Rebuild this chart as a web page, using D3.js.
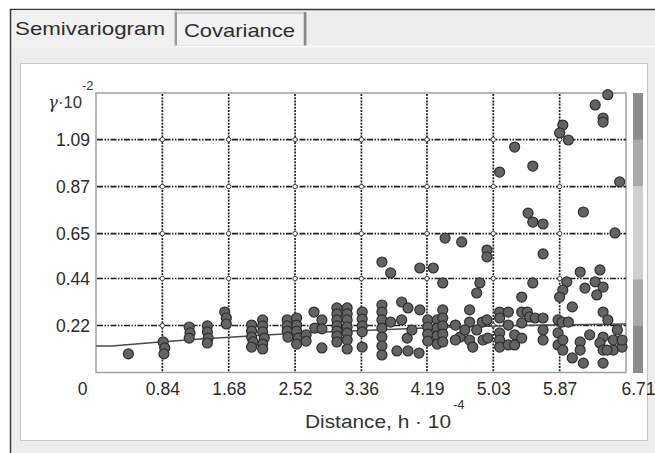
<!DOCTYPE html>
<html>
<head>
<meta charset="utf-8">
<script src="https://cdn.jsdelivr.net/npm/d3@7"></script>
<style>
  html, body { margin: 0; padding: 0; background: #fff; }
  svg { display: block; }
  text { font-family: "Liberation Sans", Arial, sans-serif; }
</style>
</head>
<body>
<script>
// Semivariogram panel

// empirical semivariogram points (distance h*10^-4, gamma*10^-2)
const lagX = [
  0.41, 0.85, 0.87, 0.86, 1.18, 1.19, 1.18, 1.41, 1.41, 1.42, 1.41, 1.63, 1.65, 1.65,
  1.97, 1.97, 1.97, 1.99, 1.97, 2.11, 2.11, 2.11, 2.13, 2.11, 2.11,
  2.42, 2.42, 2.42, 2.43, 2.54, 2.54, 2.54, 2.56, 2.54, 2.66, 2.66, 2.76, 2.77,
  2.86, 2.86, 2.86, 3.05, 3.05, 3.05, 3.05, 3.05, 3.05, 3.05,
  3.18, 3.18, 3.18, 3.18, 3.18, 3.18, 3.18, 3.37, 3.37, 3.37, 3.37, 3.37,
  3.62, 3.73, 3.62, 3.62, 3.62, 3.62, 3.62, 3.62, 3.62, 3.73,
  3.87, 3.95, 3.87, 3.94, 3.81, 3.95, 4.10, 4.10, 4.27, 4.09,
  4.20, 4.20, 4.20, 4.20, 4.32, 4.32, 4.32, 4.32,
  4.42, 4.63, 4.95, 4.95, 5.66, 4.39, 4.86, 4.82, 5.53, 5.39,
  5.96, 5.91, 5.87, 6.13, 6.19, 6.32, 6.38, 6.42, 6.34, 6.03, 6.42, 6.48,
  4.39, 4.39, 4.39, 4.39, 4.39, 4.73, 4.73, 4.61, 4.73, 4.77,
  4.89, 4.95, 4.82, 4.90, 4.96, 5.11, 5.11, 5.11, 5.11, 5.11,
  5.22, 5.22, 5.22, 5.30, 5.30, 5.39, 5.46, 5.49, 5.56, 5.39, 5.39,
  5.66, 5.66, 5.66, 5.85, 5.90, 5.98, 5.85, 5.85, 5.91, 5.91,
  6.03, 6.17, 6.13, 6.13, 6.42, 6.38, 6.42, 6.42, 6.55, 6.55, 6.66, 6.66, 6.47,
  6.48, 6.32, 6.42, 6.42, 5.91, 5.87, 5.98, 5.30, 5.53, 5.11, 6.63,
  5.47, 5.53, 5.66, 6.17, 6.57,
  4.55, 4.55, 4.67, 4.00, 6.25, 6.60
];
const gamma = [
  0.087, 0.143, 0.115, 0.087, 0.213, 0.185, 0.161, 0.218, 0.190, 0.161, 0.138, 0.283, 0.255, 0.227,
  0.222, 0.194, 0.166, 0.143, 0.119, 0.246, 0.218, 0.190, 0.161, 0.133, 0.110,
  0.246, 0.218, 0.194, 0.166, 0.255, 0.222, 0.194, 0.161, 0.133, 0.176, 0.147, 0.283, 0.208,
  0.246, 0.204, 0.115, 0.302, 0.274, 0.246, 0.218, 0.194, 0.171, 0.143,
  0.302, 0.274, 0.246, 0.213, 0.185, 0.152, 0.110, 0.283, 0.250, 0.218, 0.190, 0.119,
  0.517, 0.466, 0.316, 0.283, 0.246, 0.208, 0.166, 0.124, 0.082, 0.236,
  0.330, 0.302, 0.246, 0.161, 0.101, 0.101, 0.293, 0.489, 0.489, 0.091,
  0.246, 0.213, 0.180, 0.147, 0.246, 0.208, 0.171, 0.133,
  0.629, 0.611, 0.573, 0.541, 0.555, 0.419, 0.419, 0.372, 0.419, 0.353,
  0.424, 0.386, 0.353, 0.470, 0.395, 0.424, 0.480, 0.400, 0.363, 0.307, 0.283, 0.246,
  0.293, 0.255, 0.218, 0.180, 0.143, 0.293, 0.236, 0.166, 0.152, 0.119,
  0.236, 0.246, 0.199, 0.152, 0.161, 0.283, 0.255, 0.185, 0.152, 0.119,
  0.283, 0.222, 0.129, 0.176, 0.129, 0.283, 0.283, 0.260, 0.255, 0.232, 0.161,
  0.255, 0.199, 0.152, 0.246, 0.236, 0.236, 0.185, 0.129, 0.152, 0.105,
  0.068, 0.044, 0.143, 0.105, 0.166, 0.138, 0.105, 0.044, 0.152, 0.105, 0.119, 0.152, 0.105,
  1.300, 1.252, 1.191, 1.172, 1.158, 1.121, 1.088, 1.055, 0.966, 0.938, 0.892,
  0.746, 0.704, 0.695, 0.751, 0.653,
  0.222, 0.152, 0.199, 0.199, 0.176, 0.199
];

// fitted model curve
const modelX = [0, 0.20, 0.81, 1.32, 1.95, 2.58, 3.22, 3.85, 4.48, 5.11, 5.75, 6.71];
const modelY = [0.124, 0.124, 0.143, 0.157, 0.171, 0.185, 0.194, 0.204, 0.213, 0.218, 0.222, 0.227];

const xTickLabels = ["0", "0.84", "1.68", "2.52", "3.36", "4.19", "5.03", "5.87", "6.71"];
const yTickLabels = ["0.22", "0.44", "0.65", "0.87", "1.09"];

// shading of the side bar, top to bottom
const barColors = ["#8c8c8c", "#a9a9a9", "#cfcfcf", "#cfcfcf", "#a9a9a9", "#8c8c8c"];

const W = 655, H = 453;
const svg = d3.select("body").append("svg")
  .attr("width", W)
  .attr("height", H);

// window chrome
svg.append("rect").attr("width", W).attr("height", H).attr("fill", "#fff");
svg.append("rect").attr("x", 10).attr("y", 9).attr("width", W - 10).attr("height", H - 9)
  .attr("fill", "#ededed");
svg.append("path").attr("d", `M10.5,${H} V9.5 H${W}`)
  .attr("fill", "none").attr("stroke", "#3a3a3a").attr("stroke-width", 1.5);

// tabs
svg.append("rect").attr("x", 175).attr("y", 13).attr("width", 131).attr("height", 33)
  .attr("fill", "#f2f2f2").attr("stroke", "#b8b8b8");
svg.append("line").attr("x1", 305).attr("x2", 305).attr("y1", 12).attr("y2", 46)
  .attr("stroke", "#888").attr("stroke-width", 2.5);
svg.append("line").attr("x1", 176).attr("x2", 176).attr("y1", 12).attr("y2", 46)
  .attr("stroke", "#999").attr("stroke-width", 2);
svg.append("line").attr("x1", 175).attr("x2", W).attr("y1", 46.5).attr("y2", 46.5)
  .attr("stroke", "#fafafa").attr("stroke-width", 2);
svg.append("rect").attr("x", 12).attr("y", 10).attr("width", 162).attr("height", 38)
  .attr("fill", "#f0f0f0");
svg.append("text").attr("x", 15).attr("y", 35).attr("font-size", 19).attr("fill", "#2e2e2e")
  .attr("font-family", "'DejaVu Sans', sans-serif")
  .attr("textLength", 150).attr("lengthAdjust", "spacingAndGlyphs")
  .text("Semivariogram");
svg.append("text").attr("x", 184).attr("y", 37).attr("font-size", 19).attr("fill", "#2e2e2e")
  .attr("font-family", "'DejaVu Sans', sans-serif")
  .attr("textLength", 111).attr("lengthAdjust", "spacingAndGlyphs")
  .text("Covariance");

// chart box
svg.append("rect").attr("x", 20.5).attr("y", 63.5).attr("width", 627).attr("height", 377)
  .attr("fill", "#fff").attr("stroke", "#c4c4c4");

const plot = { left: 96, right: 626, top: 93, bottom: 372.5 };

const x = d3.scaleLinear().domain([0, 6.71]).range([plot.left, plot.right]);
const y = d3.scaleLinear().domain([0, 1.308]).range([plot.bottom, plot.top]);

const xTicks = xTickLabels.map(Number);
const yTicks = yTickLabels.map(Number);

// side bar
const barScale = d3.scaleBand().domain(d3.range(barColors.length)).range([plot.top, plot.bottom]);
svg.append("g").selectAll("rect")
  .data(barColors)
  .join("rect")
    .attr("x", 633)
    .attr("y", (d, i) => barScale(i))
    .attr("width", 10)
    .attr("height", barScale.bandwidth() + 0.5)
    .attr("fill", d => d);

// plot frame
svg.append("rect")
  .attr("x", plot.left).attr("y", plot.top)
  .attr("width", plot.right - plot.left).attr("height", plot.bottom - plot.top)
  .attr("fill", "#fff").attr("stroke", "#a0a0a0").attr("stroke-width", 1.5);

// grid
const grid = svg.append("g");
grid.selectAll("line.v")
  .data(xTicks.slice(1, -1))
  .join("line")
    .attr("class", "v")
    .attr("x1", d => x(d)).attr("x2", d => x(d))
    .attr("y1", plot.top + 1).attr("y2", plot.bottom)
    .attr("stroke", "#1e1e1e").attr("stroke-width", 1.7)
    .attr("stroke-dasharray", "2,1.2");
grid.selectAll("line.h")
  .data(yTicks)
  .join("line")
    .attr("class", "h")
    .attr("x1", plot.left + 1).attr("x2", plot.right)
    .attr("y1", d => y(d)).attr("y2", d => y(d))
    .attr("stroke", "#1e1e1e").attr("stroke-width", 1.7)
    .attr("stroke-dasharray", "6,1.5,1.5,1.5,1.5,1.5");
const crossings = d3.cross(xTicks.slice(1, -1), yTicks);
grid.selectAll("circle")
  .data(crossings)
  .join("circle")
    .attr("cx", d => x(d[0])).attr("cy", d => y(d[1]))
    .attr("r", 2.2)
    .attr("fill", "#fff").attr("stroke", "#444").attr("stroke-width", 1);

// axes labels
const xAxis = svg.append("g")
  .attr("transform", `translate(0,${plot.bottom + 7})`)
  .call(d3.axisBottom(x).tickValues(xTicks).tickFormat((d, i) => xTickLabels[i]).tickSize(0));
xAxis.select(".domain").remove();
xAxis.selectAll("text")
  .attr("font-size", 17.5).attr("fill", "#2a2a2a")
  .attr("font-family", "'Liberation Sans', Arial, sans-serif")
  .attr("dx", (d, i) => i === 0 ? -14 : (i === xTicks.length - 1 ? 12 : 0));

const yAxis = svg.append("g")
  .attr("transform", `translate(${plot.left - 3},0)`)
  .call(d3.axisLeft(y).tickValues(yTicks).tickFormat((d, i) => yTickLabels[i]).tickSize(0));
yAxis.select(".domain").remove();
yAxis.selectAll("text")
  .attr("font-size", 17.5).attr("fill", "#2a2a2a")
  .attr("font-family", "'Liberation Sans', Arial, sans-serif");

// axis titles
const yTitle = svg.append("text").attr("x", 48).attr("y", 108).attr("font-size", 17).attr("fill", "#333")
  .attr("textLength", 34).attr("lengthAdjust", "spacingAndGlyphs");
yTitle.append("tspan").attr("font-style", "italic").attr("font-family", "'DejaVu Serif', serif").text("γ");
yTitle.append("tspan").text("·10");
svg.append("text").attr("x", 82).attr("y", 90).attr("font-size", 13).attr("fill", "#333").text("-2");

svg.append("text").attr("x", 305).attr("y", 428).attr("font-size", 18).attr("fill", "#333")
  .attr("textLength", 146).attr("lengthAdjust", "spacingAndGlyphs")
  .text("Distance, h · 10");
svg.append("text").attr("x", 453).attr("y", 409).attr("font-size", 13).attr("fill", "#333").text("-4");

// model line
const line = d3.line().x(d => x(d[0])).y(d => y(d[1]));
svg.append("path")
  .datum(d3.zip(modelX, modelY))
  .attr("fill", "none")
  .attr("stroke", "#4a4a4a")
  .attr("stroke-width", 1.5)
  .attr("d", line);

// points
const pts = d3.zip(lagX, gamma);
svg.append("g").selectAll("circle")
  .data(pts)
  .join("circle")
    .attr("cx", d => x(d[0]))
    .attr("cy", d => y(d[1]))
    .attr("r", 5)
    .attr("fill", "#636363")
    .attr("stroke", "#2e2e2e")
    .attr("stroke-width", 1.2);
</script>
</body>
</html>
